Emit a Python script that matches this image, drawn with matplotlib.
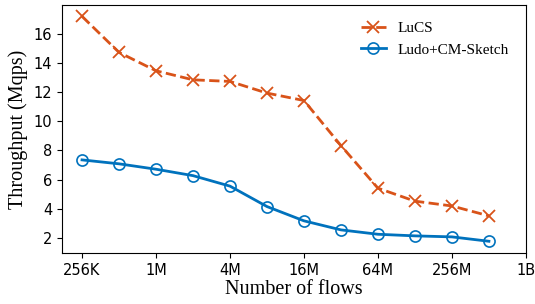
import numpy as np
import matplotlib
matplotlib.use('Agg')
import matplotlib.pyplot as plt

# x positions as powers of two (256K .. 512M)
exps = list(range(18, 30))
lucs = [17.19, 14.72, 13.46, 12.84, 12.73, 11.93, 11.42, 8.33, 5.41, 4.52, 4.19, 3.51]
ludo = [7.35, 7.08, 6.71, 6.27, 5.55, 4.15, 3.17, 2.55, 2.25, 2.14, 2.07, 1.77]
tick_exps = [18, 20, 22, 24, 26, 28, 30]
tick_labels = ['256K', '1M', '4M', '16M', '64M', '256M', '1B']

serif = ['Liberation Serif', 'DejaVu Serif']

x = 2.0 ** np.array(exps)

fig = plt.figure(figsize=(5.35, 3.04), dpi=100)
ax = fig.add_axes([0.116, 0.168, 0.867, 0.816])

ax.plot(x, lucs, color='#D95319', linestyle='--', linewidth=2,
        marker='x', markersize=9, markeredgewidth=1.3, label='LuCS')
ax.plot(x, ludo, color='#0072BD', linestyle='-', linewidth=2,
        marker='o', markersize=8, markerfacecolor='none', markeredgewidth=1.2,
        label='Ludo+CM-Sketch')

ax.set_xscale('log', base=2)
ax.set_xticks(2.0 ** np.array(tick_exps))
ax.set_xticklabels(tick_labels)
ax.minorticks_off()
ax.set_xlim(2 ** 17.46, 2 ** 30)
ax.set_ylim(0.97, 17.98)
ax.set_yticks([2, 4, 6, 8, 10, 12, 14, 16])
ax.tick_params(labelsize=10.5)

ax.set_xlabel('Number of flows', fontsize=14.5, family=serif, labelpad=2)
ax.set_ylabel('Throughput (Mqps)', fontsize=14.5, family=serif, labelpad=4)

ax.legend(loc='upper right', frameon=False, prop={'family': serif, 'size': 11},
          borderaxespad=0.6, handlelength=1.6, borderpad=0.5)

fig.savefig('out.png', dpi=100)
